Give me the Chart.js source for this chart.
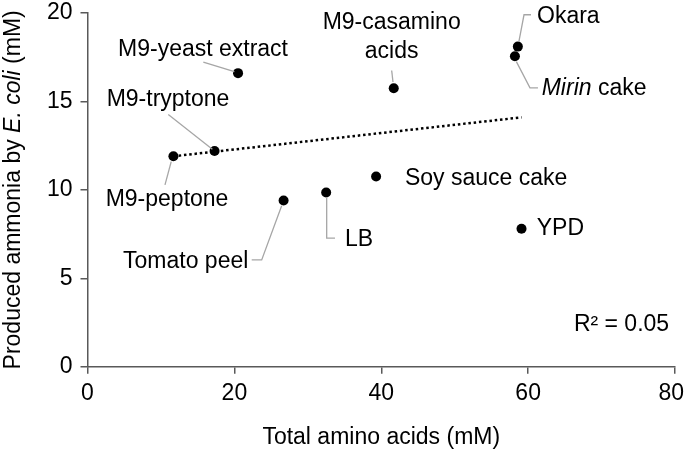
<!DOCTYPE html>
<html>
<head>
<meta charset="utf-8">
<script src="https://cdn.jsdelivr.net/npm/chart.js@4"></script>
<style>
    html, body { margin: 0; padding: 0; background: #fff; }
    canvas { display: block; }
</style>
</head>
<body>
<canvas id="chart" width="685" height="450"></canvas>
<script>

const sampleNames = ["M9-yeast extract", "M9-tryptone", "M9-peptone", "M9-casamino acids",
    "Okara", "Mirin cake", "Soy sauce cake", "LB", "YPD", "Tomato peel"];
const aminoAcids = [20.5, 17.3, 11.7, 41.7, 58.6, 58.2, 39.3, 32.5, 59.1, 26.7];
const ammonia = [16.6, 12.2, 11.9, 15.75, 18.1, 17.55, 10.75, 9.85, 7.8, 9.4];

// trendline ends
const trendX = [11.7, 59.1];
const trendY = [11.9, 14.1];

const xTicks = [0, 20, 40, 60, 80];
const yTicks = [0, 5, 10, 15, 20];

const r2Text = "R\u00b2 = 0.05";

// label text pieces [text, italic], anchor in data units, leader line in data units
const labels = [
    { parts: [["M9-yeast extract", false]], x: 15.73, y: 17.92, align: "center",
      leader: [[15.77, 17.22], [20.0, 16.68]] },
    { parts: [["M9-tryptone", false]], x: 10.96, y: 15.09, align: "center",
      leader: [[11.0, 14.26], [17.0, 12.3]] },
    { parts: [["M9-peptone", false]], x: 10.83, y: 9.43, align: "center",
      leader: [[10.55, 10.28], [11.4, 11.6]] },
    { parts: [["M9-casamino", false]], x: 41.42, y: 19.43, align: "center" },
    { parts: [["acids", false]], x: 41.42, y: 17.83, align: "center",
      leader: [[41.42, 16.75], [41.6, 16.1]] },
    { parts: [["Okara", false]], x: 61.21, y: 19.77, align: "left",
      leader: [[60.39, 19.9], [59.44, 19.9], [58.75, 18.4]] },
    { parts: [["Mirin", true], [" cake", false]], x: 61.85, y: 15.7, align: "left",
      leader: [[58.4, 17.25], [60.25, 15.77], [61.34, 15.77]] },
    { parts: [["Soy sauce cake", false]], x: 43.23, y: 10.66, align: "left" },
    { parts: [["LB", false]], x: 35.06, y: 7.21, align: "left",
      leader: [[32.57, 9.6], [32.57, 7.27], [33.7, 7.27]] },
    { parts: [["YPD", false]], x: 61.17, y: 7.78, align: "left" },
    { parts: [["Tomato peel", false]], x: 21.9, y: 5.94, align: "right",
      leader: [[26.44, 9.1], [23.72, 6.04], [22.36, 6.04]] },
    { parts: [[r2Text, false]], x: 79.2, y: 2.36, align: "right" }
];

const FONT = "Liberation Sans, Arial, sans-serif";
const SIZE = 23;

function fontFor(italic) {
    return (italic ? "italic " : "") + SIZE + "px " + FONT;
}

function drawParts(ctx, parts, x, y, align) {

    let total = 0;
    parts.forEach(p => {
        ctx.font = fontFor(p[1]);
        total += ctx.measureText(p[0]).width;
    });

    let start = x;
    if (align === "center") start = x - total / 2;
    if (align === "right") start = x - total;

    // keep text inside the canvas
    start = Math.min(start, ctx.canvas.width - total - 1);

    ctx.textAlign = "left";
    ctx.textBaseline = "middle";

    parts.forEach(p => {
        ctx.font = fontFor(p[1]);
        ctx.fillText(p[0], start, y);
        start += ctx.measureText(p[0]).width;
    });
}

const annotations = {

    id: "annotations",

    afterDatasetsDraw(chart) {

        const ctx = chart.ctx;
        const xs = chart.scales.x;
        const ys = chart.scales.y;
        const area = chart.chartArea;

        ctx.save();

        ctx.strokeStyle = "#a6a6a6";
        ctx.lineWidth = 1.3;

        labels.forEach(l => {
            if (!l.leader) return;
            ctx.beginPath();
            l.leader.forEach((pt, i) => {
                const px = xs.getPixelForValue(pt[0]);
                const py = ys.getPixelForValue(pt[1]);
                if (i === 0) ctx.moveTo(px, py);
                else ctx.lineTo(px, py);
            });
            ctx.stroke();
        });

        ctx.fillStyle = "#000";

        labels.forEach(l => {
            drawParts(ctx, l.parts, xs.getPixelForValue(l.x), ys.getPixelForValue(l.y), l.align);
        });

        // x tick labels
        xTicks.forEach(v => {
            drawParts(ctx, [[String(v), false]], xs.getPixelForValue(v), area.bottom + 27, "center");
        });

        // axis titles
        drawParts(ctx, [["Total amino acids (mM)", false]], (area.left + area.right) / 2, 438, "center");

        ctx.translate(14, (area.top + area.bottom) / 2);
        ctx.rotate(-Math.PI / 2);
        drawParts(ctx, [["Produced ammonia by ", false], ["E. coli", true], [" (mM)", false]], 0, 0, "center");

        ctx.restore();
    }
};

const points = aminoAcids.map((v, i) => ({ x: v, y: ammonia[i] }));
const trend = trendX.map((v, i) => ({ x: v, y: trendY[i] }));

const axisColor = "#595959";

new Chart(document.getElementById("chart"), {

    type: "scatter",

    data: {
        labels: sampleNames,
        datasets: [
            {
                label: "Trend",
                data: trend,
                showLine: true,
                borderColor: "#000",
                borderWidth: 2.5,
                borderDash: [2.5, 2.8],
                pointRadius: 0,
                fill: false
            },
            {
                label: "Samples",
                data: points,
                backgroundColor: "#000",
                borderWidth: 0,
                pointRadius: 5,
                pointHoverRadius: 5
            }
        ]
    },

    options: {

        responsive: false,
        animation: false,
        devicePixelRatio: 1,

        layout: {
            padding: { top: 13, right: 10, left: 0, bottom: 0 }
        },

        plugins: {
            legend: { display: false },
            tooltip: { enabled: false }
        },

        scales: {

            x: {
                type: "linear",
                min: 0,
                max: 80,
                afterBuildTicks: s => { s.ticks = xTicks.map(v => ({ value: v })); },
                afterFit: s => { s.height = 83.3; s.paddingRight = 10; s.paddingLeft = 0; },
                border: { color: axisColor, width: 1.5 },
                grid: { drawOnChartArea: false, drawTicks: true, tickLength: 7, color: axisColor, lineWidth: 1.5 },
                ticks: { display: false }
            },

            y: {
                type: "linear",
                min: 0,
                max: 20,
                afterBuildTicks: s => { s.ticks = yTicks.map(v => ({ value: v })); },
                afterFit: s => { s.width = 87.5; s.paddingTop = 13; s.paddingBottom = 0; },
                border: { color: axisColor, width: 1.5 },
                grid: { drawOnChartArea: false, drawTicks: true, tickLength: 7, color: axisColor, lineWidth: 1.5 },
                ticks: { color: "#000", font: { family: FONT, size: SIZE }, padding: 8 }
            }

        }

    },

    plugins: [annotations]

});

</script>
</body>
</html>
